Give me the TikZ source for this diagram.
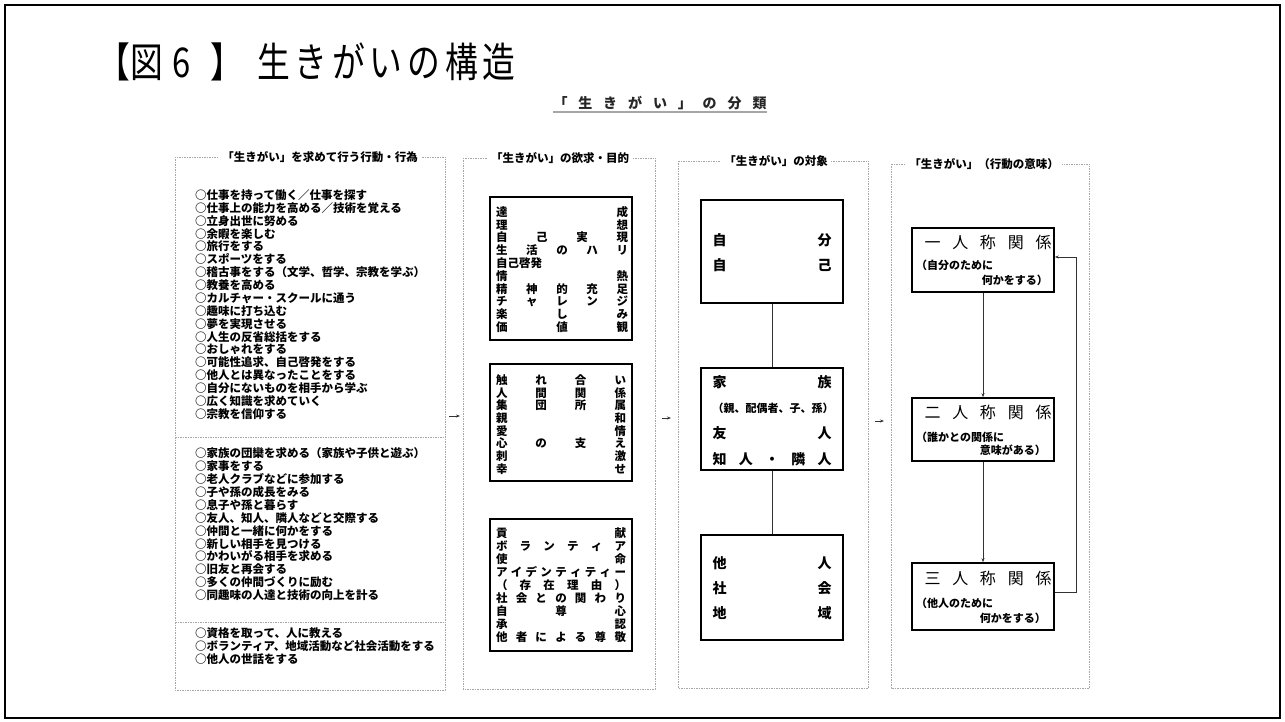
\documentclass[tikz,border=0pt]{standalone}
\usepackage{fontspec}
\usepackage{graphicx}
\setmainfont{Noto Sans CJK JP}
\usetikzlibrary{arrows.meta}
\newcommand\sprd[2]{\makebox[#1pt][s]{#2}}
\newcommand\narrow[1]{\scalebox{0.8}[1]{#1}}
\tikzset{
  outer/.style={draw=black, line width=2pt},
  colframe/.style={draw=gray!70, line width=0.7pt, dash pattern=on 1.5pt off 1pt},
  hdr/.style={fill=white, inner xsep=3pt, inner ysep=1pt, font=\bfseries\fontsize{11.5}{12}\selectfont, text height=10.1pt, text depth=1.4pt},
  lstline/.style={anchor=base west, inner sep=0pt, font=\bfseries\fontsize{11.5}{12}\selectfont},
  row/.style={inner sep=0pt, font=\bfseries\fontsize{11.5}{12}\selectfont, text height=10.1pt, text depth=1.4pt},
  bigrow/.style={inner sep=0pt, font=\bfseries\fontsize{14}{14}\selectfont, text height=12.3pt, text depth=1.7pt},
  smallrow/.style={inner sep=0pt, font=\bfseries\fontsize{11}{11}\selectfont, text height=9.7pt, text depth=1.3pt},
  reltitle/.style={inner sep=0pt, font=\fontsize{16}{16}\selectfont, text height=14.1pt, text depth=1.9pt},
  box/.style={draw=black, line width=1.6pt, inner sep=0pt},
  link/.style={draw=black!80, line width=0.7pt},
  arr/.style={draw=black!80, line width=0.7pt, -{Stealth[length=4pt,width=3pt]}},
  titletext/.style={inner sep=0pt, font=\fontsize{41}{41}\selectfont, text height=36.1pt, text depth=4.9pt},
  subtext/.style={inner sep=0pt, text=black!85, font=\bfseries\fontsize{14}{14}\selectfont, text height=12.3pt, text depth=1.7pt}
}
\begin{document}
\begin{tikzpicture}[x=1pt,y=-1pt]
\useasboundingbox (0,0) rectangle (1285,722);
\fill[white] (0,0) rectangle (1285,722);
\draw[outer] (5,5) rectangle (1280,718);

% title
\node[titletext] (ti1) at (114,61.5) {\narrow{【}};
\node[titletext] (ti2) at (147,61.5) {\narrow{図}};
\node[titletext] (ti3) at (181.5,61.5) {\narrow{6}};
\node[titletext] (ti4) at (226.5,61.5) {\narrow{】}};
\node[titletext] (ti5) at (386.3,61.5) {\narrow{\sprd{323}{生\hfill き\hfill が\hfill い\hfill の\hfill 構\hfill 造}}};
\node[subtext] (subt) at (660,103) {\sprd{213}{「\hfill 生\hfill き\hfill が\hfill い\hfill 」\hfill の\hfill 分\hfill 類}};
\draw[gray!70, line width=1.4pt] ([yshift=-2pt]subt.south west) -- ([yshift=-2pt]subt.south east);

% column frames
\draw[colframe] (175,157) rectangle (445,690);
\draw[colframe] (175,437) -- (445,437);
\draw[colframe] (175,622) -- (445,622);
\draw[colframe] (463,158) rectangle (655,689);
\draw[colframe] (678,161) rectangle (868,688);
\draw[colframe] (891,164) rectangle (1089,688);
\node[hdr] (h1) at (320,157) {「生きがい」を求めて行う行動・行為};
\node[hdr] (h2) at (560,158) {「生きがい」の欲求・目的};
\node[hdr] (h3) at (776,161) {「生きがい」の対象};
\node[hdr] (h4) at (984,164) {「生きがい」（行動の意味）};

% column 1 lists
\foreach \t [count=\i from 0] in {
○仕事を持って働く／仕事を探す,
○仕事上の能力を高める／技術を覚える,
○立身出世に努める,
○余暇を楽しむ,
○旅行をする,
○スポーツをする,
○稽古事をする（文学、哲学、宗教を学ぶ）,
○教養を高める,
○カルチャー・スクールに通う,
○趣味に打ち込む,
○夢を実現させる,
○人生の反省総括をする,
○おしゃれをする,
○可能性追求、自己啓発をする,
○他人とは異なったことをする,
○自分にないものを相手から学ぶ,
○広く知識を求めていく,
○宗教を信仰する}
  \node[lstline] (gA\i) at (195,{199.4+\i*12.88}) {\t};
\foreach \t [count=\i from 0] in {
○家族の団欒を求める（家族や子供と遊ぶ）,
○家事をする,
○老人クラブなどに参加する,
○子や孫の成長をみる,
○息子や孫と暮らす,
○友人、知人、隣人などと交際する,
○仲間と一緒に何かをする,
○新しい相手を見つける,
○かわいがる相手を求める,
○旧友と再会する,
○多くの仲間づくりに励む,
○同趣味の人達と技術の向上を計る}
  \node[lstline] (gB\i) at (195,{457.7+\i*12.9}) {\t};
\foreach \t [count=\i from 0] in {
○資格を取って、人に教える,
○ボランティア、地域活動など社会活動をする,
○他人の世話をする}
  \node[lstline] (gC\i) at (195,{637.4+\i*12.9}) {\t};

% column 2 boxes
\node[box, minimum width=142, minimum height=143] (b1) at (561,268.5) {};
\node[box, minimum width=142, minimum height=117] (b2) at (561,422.5) {};
\node[box, minimum width=142, minimum height=132] (b3) at (561,585) {};
\foreach \t [count=\i from 0] in {
{達\hfill 成},{理\hfill 想},{自\hfill 己\hfill 実\hfill 現},{生\hfill 活\hfill の\hfill ハ\hfill リ},
{自己啓発\hfill},{情\hfill 熱},{精\hfill 神\hfill 的\hfill 充\hfill 足},{チ\hfill ャ\hfill レ\hfill ン\hfill ジ},
{楽\hfill し\hfill み},{価\hfill 値\hfill 観}}
  \node[row] (bA\i) at (562,{212+\i*12.8}) {\sprd{132}{\t}};
\foreach \t [count=\i from 0] in {
{触\hfill れ\hfill 合\hfill い},{人\hfill 間\hfill 関\hfill 係},{集\hfill 団\hfill 所\hfill 属},{親\hfill 和},
{愛\hfill 情},{心\hfill の\hfill 支\hfill え},{刺\hfill 激},{幸\hfill せ}}
  \node[row] (bB\i) at (561,{380+\i*12.7}) {\sprd{130}{\t}};
\foreach \t [count=\i from 0] in {
{貢\hfill 献},{ボ\hfill ラ\hfill ン\hfill テ\hfill ィ\hfill ア},{使\hfill 命},
{ア\hfill イ\hfill デ\hfill ン\hfill テ\hfill ィ\hfill テ\hfill ィ\hfill ー},
{（\hfill 存\hfill 在\hfill 理\hfill 由\hfill ）},{社\hfill 会\hfill と\hfill の\hfill 関\hfill わ\hfill り},
{自\hfill 尊\hfill 心},{承\hfill 認},{他\hfill 者\hfill に\hfill よ\hfill る\hfill 尊\hfill 敬}}
  \node[row] (bC\i) at (561,{533+\i*13}) {\sprd{130}{\t}};

% column 3 boxes
\node[box, minimum width=142, minimum height=103] (t1) at (772,251.5) {};
\node[box, minimum width=142, minimum height=102] (t2) at (772,419) {};
\node[box, minimum width=142, minimum height=105] (t3) at (772,587.5) {};
\draw[link] (t1.south) -- (t2.north);
\draw[link] (t2.south) -- (t3.north);
\node[bigrow] (tA0) at (772,240) {\sprd{119}{自\hfill 分}};
\node[bigrow] (tA1) at (772,265) {\sprd{119}{自\hfill 己}};
\node[bigrow] (tB0) at (772,382) {\sprd{119}{家\hfill 族}};
\node[smallrow] (tB1) at (773,408) {（親、配偶者、子、孫）};
\node[bigrow] (tB2) at (772,433) {\sprd{119}{友\hfill 人}};
\node[bigrow] (tB3) at (772,459) {\sprd{119}{知\hfill 人\hfill ・\hfill 隣\hfill 人}};
\node[bigrow] (tC0) at (772,563) {\sprd{119}{他\hfill 人}};
\node[bigrow] (tC1) at (772,588) {\sprd{119}{社\hfill 会}};
\node[bigrow] (tC2) at (772,613) {\sprd{119}{地\hfill 域}};

% column 4 boxes
\node[box, minimum width=142, minimum height=64] (m1) at (983,260) {};
\node[box, minimum width=142, minimum height=63] (m2) at (983,429.5) {};
\node[box, minimum width=142, minimum height=67] (m3) at (983,596.5) {};
\node[reltitle] (mA0) at (988,242) {\sprd{127}{一\hfill 人\hfill 称\hfill 関\hfill 係}};
\node[smallrow, anchor=west] (mA1) at (916,265) {（自分のために};
\node[smallrow, anchor=east] (mA2) at (1048,280) {何かをする）};
\node[reltitle] (mB0) at (988,412) {\sprd{127}{二\hfill 人\hfill 称\hfill 関\hfill 係}};
\node[smallrow, anchor=west] (mB1) at (916,437) {（誰かとの関係に};
\node[smallrow, anchor=east] (mB2) at (1046,450) {意味がある）};
\node[reltitle] (mC0) at (988,578) {\sprd{127}{三\hfill 人\hfill 称\hfill 関\hfill 係}};
\node[smallrow, anchor=west] (mC1) at (916,603) {（他人のために};
\node[smallrow, anchor=east] (mC2) at (1046,618) {何かをする）};
\draw[arr] (m1.south) -- (m2.north);
\draw[arr] (m2.south) -- (m3.north);
\draw[arr] ([yshift=4pt]m3.east) -- ++(22,0) |- ([yshift=3pt]m1.east);

% arrows between columns
\coordinate (a1s) at (449,416); \coordinate (a1e) at (460,416);
\coordinate (a2s) at (662,418); \coordinate (a2e) at (671,418);
\coordinate (a3s) at (875,421); \coordinate (a3e) at (884,421);
\draw[arr] (a1s) -- (a1e);
\draw[arr] (a2s) -- (a2e);
\draw[arr] (a3s) -- (a3e);
\end{tikzpicture}
\end{document}
